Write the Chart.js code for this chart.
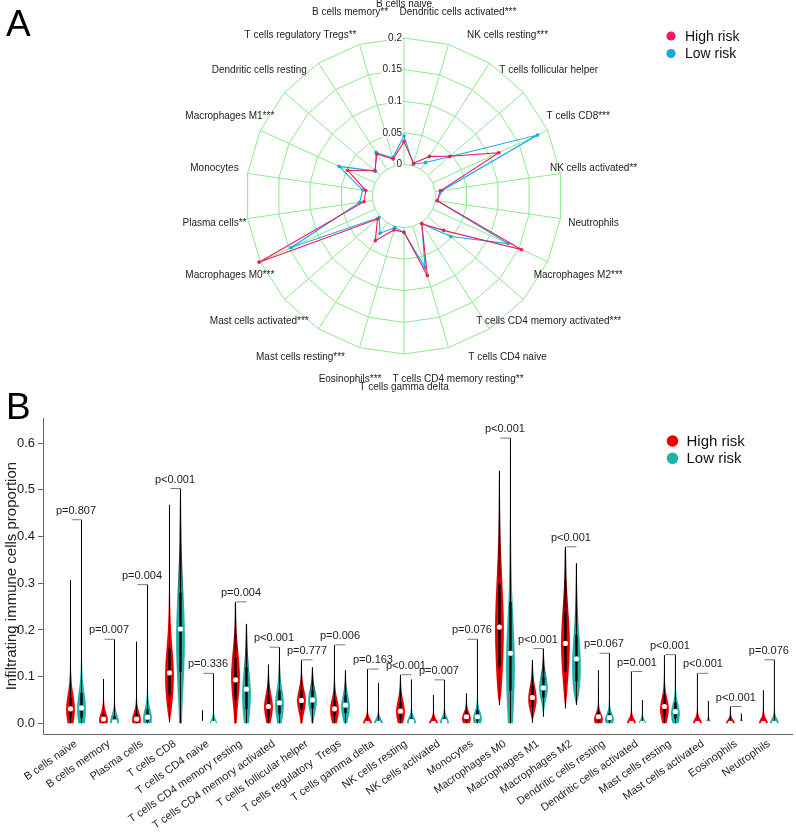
<!DOCTYPE html>
<html>
<head>
<meta charset="utf-8">
<script src="https://cdn.jsdelivr.net/npm/chart.js@4.4.1/dist/chart.umd.min.js"></script>
<style>
  body { margin: 0; background: #fff; width: 796px; height: 832px; position: relative; overflow: hidden;
         font-family: "Liberation Sans", Arial, sans-serif; }
  #wrapA { position: absolute; left: 0; top: 0; width: 796px; height: 400px; }
  #wrapB { position: absolute; left: 0; top: 380px; width: 796px; height: 452px; }
  .tag { position: absolute; font-size: 37px; line-height: 1; color: #000; }
</style>
</head>
<body>
<div id="wrapA"><canvas id="radar"></canvas></div>
<div id="wrapB"><canvas id="violin"></canvas></div>
<div class="tag" style="left:6px;top:5px">A</div>
<div class="tag" style="left:6px;top:388px">B</div>

<script>
const FONT = '"Liberation Sans", Arial, sans-serif';
Chart.defaults.font.family = FONT;

// ---- panel A: radar of mean proportions ----
const radarLabels = ['B cells naive', 'Dendritic cells activated***', 'NK cells resting***', 'T cells follicular helper',
  'T cells CD8***', 'NK cells activated**', 'Neutrophils', 'Macrophages M2***', 'T cells CD4 memory activated***',
  'T cells CD4 naive', 'T cells CD4 memory resting**', 'T cells gamma delta', 'Eosinophils***', 'Mast cells resting***',
  'Mast cells activated***', 'Macrophages M0***', 'Plasma cells**', 'Monocytes', 'Macrophages M1***',
  'Dendritic cells resting', 'T cells regulatory Tregs**', 'B cells memory**'];
const radarHigh = [0.036, 0.004, 0.0245, 0.046, 0.115, 0.008, 0.003, 0.154, 0.033, 0.002, 0.081, 0.0075,
  0.006, 0.034, 0.0055, 0.202, 0.014, 0.011, 0.048, 0.011, 0.029, 0.011];
const radarLow = [0.045, 0.002, 0.013, 0.045, 0.182, 0.011, 0.003, 0.131, 0.048, 0.002, 0.068, 0.0075,
  0.002, 0.02, 0.002, 0.146, 0.021, 0.016, 0.063, 0.01, 0.032, 0.013];
const radarTicks = [0, 0.05, 0.1, 0.15, 0.2];

// ---- panel B: violins ----
const cellTypes = ['B cells naive', 'B cells memory', 'Plasma cells', 'T cells CD8', 'T cells CD4 naive',
  'T cells CD4 memory resting', 'T cells CD4 memory activated', 'T cells follicular helper', 'T cells regulatory  Tregs',
  'T cells gamma delta', 'NK cells resting', 'NK cells activated', 'Monocytes', 'Macrophages M0', 'Macrophages M1',
  'Macrophages M2', 'Dendritic cells resting', 'Dendritic cells activated', 'Mast cells resting',
  'Mast cells activated', 'Eosinophils', 'Neutrophils'];
const pLabels = ['p=0.807', 'p=0.007', 'p=0.004', 'p<0.001', 'p=0.336', 'p=0.004', 'p<0.001', 'p=0.777', 'p=0.006',
  'p=0.163', 'p<0.001', 'p=0.007', 'p=0.076', 'p<0.001', 'p<0.001', 'p<0.001', 'p=0.067', 'p=0.001', 'p<0.001',
  'p<0.001', 'p<0.001', 'p=0.076'];
const yTicks = [0, 0.1, 0.2, 0.3, 0.4, 0.5, 0.6];

const highMin    = [0, 0, 0, 0.002, 0, 0, 0, 0, 0, 0, 0, 0, 0, 0.039, 0.001, 0.032, 0, 0, 0, 0, 0, 0];
const highQ1     = [0.012, 0.002, 0.002, 0.06, 0, 0.05, 0.015, 0.03, 0.015, 0, 0.008, 0, 0.005, 0.12, 0.035, 0.11, 0.004, 0, 0.015, 0, 0, 0];
const highMed    = [0.031, 0.009, 0.009, 0.108, 0, 0.093, 0.036, 0.049, 0.031, 0, 0.026, 0, 0.014, 0.206, 0.055, 0.171, 0.014, 0, 0.036, 0, 0, 0];
const highQ3     = [0.055, 0.02, 0.022, 0.16, 0, 0.14, 0.06, 0.07, 0.05, 0.004, 0.045, 0.004, 0.025, 0.3, 0.08, 0.24, 0.025, 0.004, 0.06, 0.003, 0.002, 0.003];
const highMax    = [0.307, 0.095, 0.175, 0.468, 0.028, 0.26, 0.126, 0.136, 0.168, 0.116, 0.104, 0.061, 0.064, 0.541, 0.136, 0.378, 0.114, 0.111, 0.146, 0.107, 0.036, 0.071];
const highMode   = [0.03, 0.006, 0.007, 0.1, 0, 0.1, 0.035, 0.048, 0.028, 0, 0.025, 0, 0.01, 0.2, 0.05, 0.17, 0.008, 0, 0.03, 0, 0, 0];
const highSpread = [0.03, 0.015, 0.015, 0.06, 0.004, 0.05, 0.025, 0.022, 0.022, 0.009, 0.022, 0.008, 0.012, 0.1, 0.025, 0.07, 0.012, 0.009, 0.022, 0.009, 0.007, 0.009];
const highWidth  = [1, 1, 1, 1, 0.3, 1, 1, 1, 1, 1, 1, 1, 1, 1, 1, 1, 1, 1, 1, 1, 1, 1];

const lowMin    = [0, 0, 0, 0, 0, 0, 0, 0, 0, 0, 0, 0, 0, 0, 0.014, 0.039, 0, 0, 0, 0, 0, 0];
const lowQ1     = [0.012, 0, 0.003, 0.11, 0, 0.03, 0.02, 0.032, 0.022, 0, 0, 0, 0.005, 0.07, 0.055, 0.09, 0.004, 0, 0.01, 0, 0, 0];
const lowMed    = [0.033, 0.003, 0.013, 0.202, 0, 0.073, 0.044, 0.05, 0.039, 0, 0.004, 0.004, 0.014, 0.15, 0.076, 0.138, 0.012, 0, 0.025, 0, 0, 0];
const lowQ3     = [0.065, 0.015, 0.03, 0.28, 0, 0.12, 0.07, 0.07, 0.06, 0.003, 0.012, 0.012, 0.028, 0.26, 0.098, 0.19, 0.022, 0.002, 0.045, 0, 0, 0.002];
const lowMax    = [0.436, 0.18, 0.297, 0.503, 0.107, 0.213, 0.163, 0.12, 0.114, 0.087, 0.094, 0.093, 0.18, 0.611, 0.16, 0.343, 0.15, 0.05, 0.147, 0.048, 0.021, 0.136];
const lowMode   = [0.03, 0.002, 0.01, 0.18, 0, 0.06, 0.04, 0.048, 0.035, 0, 0.002, 0.002, 0.01, 0.12, 0.075, 0.12, 0.008, 0, 0.02, 0, 0, 0];
const lowSpread = [0.035, 0.015, 0.02, 0.1, 0.008, 0.05, 0.03, 0.022, 0.022, 0.009, 0.01, 0.01, 0.014, 0.1, 0.025, 0.065, 0.012, 0.007, 0.02, 0.006, 0.005, 0.009];
const lowWidth  = [1, 1, 1, 1, 0.8, 1, 1, 1, 1, 1, 1, 1, 1, 1, 1, 1, 1, 0.8, 1, 0.6, 0.5, 1];

const PINK = '#f01b5b', SKY = '#17a9e6', GRID_GREEN = '#8ee88e';
const RED = '#ee0000', TEAL = '#20b2aa';
const HALF = 0.4; // violin half width in x-units

function legendPlugin(x, y, gap, r, size) {
  return {
    id: 'riskLegend',
    afterDraw(chart) {
      const ctx = chart.ctx;
      ctx.save();
      chart.data.datasets.forEach((ds, k) => {
        ctx.fillStyle = ds.legendColor;
        ctx.beginPath();
        ctx.arc(x, y + k * gap, r, 0, Math.PI * 2);
        ctx.fill();
        ctx.fillStyle = '#111';
        ctx.font = size + 'px ' + FONT;
        ctx.textAlign = 'left';
        ctx.textBaseline = 'middle';
        ctx.fillText(ds.label, x + 14, y + k * gap + 1);
      });
      ctx.restore();
    }
  };
}

// spokes from the inner ring, tick labels and outer labels
const radarDecor = {
  id: 'radarDecor',
  beforeDatasetsDraw(chart) {
    const s = chart.scales.r, ctx = chart.ctx;
    ctx.save();
    ctx.strokeStyle = GRID_GREEN;
    ctx.lineWidth = 1;
    radarLabels.forEach((_, i) => {
      const a = s.getPointPositionForValue(i, radarTicks[0]);
      const b = s.getPointPositionForValue(i, radarTicks[radarTicks.length - 1]);
      ctx.beginPath();
      ctx.moveTo(a.x, a.y);
      ctx.lineTo(b.x, b.y);
      ctx.stroke();
    });
    ctx.font = '10px ' + FONT;
    ctx.textAlign = 'right';
    ctx.textBaseline = 'middle';
    radarTicks.forEach(v => {
      const p = s.getPointPositionForValue(0, v);
      const txt = String(v);
      const w = ctx.measureText(txt).width;
      ctx.fillStyle = '#fff';
      ctx.fillRect(p.x - 2 - w - 1, p.y - 5, w + 2, 10);
      ctx.fillStyle = '#222';
      ctx.fillText(txt, p.x - 2, p.y);
    });
    ctx.restore();
  },
  afterDraw(chart) {
    const s = chart.scales.r, ctx = chart.ctx;
    ctx.save();
    ctx.font = '10px ' + FONT;
    ctx.fillStyle = '#222';
    ctx.textAlign = 'center';
    ctx.textBaseline = 'middle';
    radarLabels.forEach((lab, i) => {
      const p = s.getPointPosition(i, s.drawingArea * 1.212);
      ctx.fillText(lab, p.x, p.y);
    });
    ctx.restore();
  }
};

new Chart(document.getElementById('radar'), {
  type: 'radar',
  data: {
    labels: radarLabels,
    datasets: [
      { label: 'High risk', data: radarHigh, borderColor: PINK, backgroundColor: PINK, pointBackgroundColor: PINK,
        pointBorderWidth: 0, pointRadius: 1.8, borderWidth: 1.1, fill: false, legendColor: PINK },
      { label: 'Low risk', data: radarLow, borderColor: SKY, backgroundColor: SKY, pointBackgroundColor: SKY,
        pointBorderWidth: 0, pointRadius: 1.8, borderWidth: 1.1, fill: false, legendColor: SKY }
    ]
  },
  options: {
    responsive: true,
    maintainAspectRatio: false,
    animation: false,
    layout: { padding: { left: 30, right: 18, top: 38, bottom: 46 } },
    plugins: { legend: { display: false }, tooltip: { enabled: false } },
    scales: {
      r: {
        min: -0.05,
        max: 0.2,
        ticks: { display: false, stepSize: 0.05 },
        grid: { color: GRID_GREEN, lineWidth: 1 },
        angleLines: { display: false },
        pointLabels: { display: false }
      }
    }
  },
  plugins: [radarDecor, legendPlugin(671, 36, 17.5, 4.6, 14)]
});

function violinStats(side, i) {
  if (side === 'high') {
    return { min: highMin[i], q1: highQ1[i], med: highMed[i], q3: highQ3[i], max: highMax[i],
             mode: highMode[i], sd: highSpread[i], w: highWidth[i] };
  }
  return { min: lowMin[i], q1: lowQ1[i], med: lowMed[i], q3: lowQ3[i], max: lowMax[i],
           mode: lowMode[i], sd: lowSpread[i], w: lowWidth[i] };
}

function drawViolin(ctx, xs, ys, pos, st, color) {
  const xc = xs.getPixelForValue(pos);
  const hw = (xs.getPixelForValue(pos + HALF) - xc) * st.w;
  const yb = ys.getPixelForValue(st.min), yt = ys.getPixelForValue(st.max);
  const steps = 90;
  const pts = [];
  for (let k = 0; k <= steps; k++) {
    const v = st.min + (st.max - st.min) * k / steps;
    const d = v - st.mode;
    let w = 0.8 * Math.exp(-0.5 * (d / st.sd) ** 2) + 0.2 * Math.exp(-0.5 * (d / (3 * st.sd)) ** 2);
    if (st.min > 0) w *= 1 - Math.exp(-(v - st.min) / 0.015);
    if (k === steps) w = 0;
    pts.push([w * hw, ys.getPixelForValue(v)]);
  }
  const grad = ctx.createLinearGradient(0, yb, 0, yt);
  grad.addColorStop(0, color);
  grad.addColorStop(0.5, color);
  grad.addColorStop(0.85, '#200');
  grad.addColorStop(1, '#000');
  ctx.beginPath();
  pts.forEach(([w, y], k) => k ? ctx.lineTo(xc + w, y) : ctx.moveTo(xc + w, y));
  for (let k = pts.length - 1; k >= 0; k--) ctx.lineTo(xc - pts[k][0], pts[k][1]);
  ctx.closePath();
  ctx.fillStyle = grad;
  ctx.fill();
  // whisker
  ctx.strokeStyle = '#000';
  ctx.lineWidth = 1;
  ctx.beginPath();
  ctx.moveTo(xc, yb);
  ctx.lineTo(xc, yt);
  ctx.stroke();
  // box
  if (st.q3 > st.q1) {
    ctx.lineWidth = 2.4;
    ctx.beginPath();
    ctx.moveTo(xc, ys.getPixelForValue(st.q1));
    ctx.lineTo(xc, ys.getPixelForValue(st.q3));
    ctx.stroke();
  }
}

const violinPlugin = {
  id: 'violins',
  beforeDatasetsDraw(chart) {
    const { ctx, scales: { x, y } } = chart;
    ctx.save();
    cellTypes.forEach((c, i) => {
      drawViolin(ctx, x, y, 3 * i + 1, violinStats('high', i), RED);
      drawViolin(ctx, x, y, 3 * i + 2, violinStats('low', i), TEAL);
    });
    ctx.restore();
  },
  afterDatasetsDraw(chart) {
    const { ctx, scales: { x, y } } = chart;
    ctx.save();
    ctx.font = '11px ' + FONT;
    ctx.textAlign = 'center';
    ctx.textBaseline = 'middle';
    cellTypes.forEach((c, i) => {
      const top = y.getPixelForValue(Math.max(highMax[i], lowMax[i]));
      const x1 = x.getPixelForValue(3 * i + 1), x2 = x.getPixelForValue(3 * i + 2);
      ctx.strokeStyle = '#555';
      ctx.lineWidth = 0.8;
      ctx.beginPath();
      ctx.moveTo(x1 + 1, top);
      ctx.lineTo(x2, top);
      ctx.stroke();
      ctx.fillStyle = '#222';
      ctx.fillText(pLabels[i], x.getPixelForValue(3 * i + 1.5), top - 9);
    });
    ctx.restore();
  }
};

new Chart(document.getElementById('violin'), {
  type: 'scatter',
  data: {
    datasets: [
      { label: 'High risk', data: highMed.map((m, i) => ({ x: 3 * i + 1, y: m })), legendColor: RED,
        pointRadius: 2.6, pointBackgroundColor: '#fff', pointBorderWidth: 0 },
      { label: 'Low risk', data: lowMed.map((m, i) => ({ x: 3 * i + 2, y: m })), legendColor: TEAL,
        pointRadius: 2.6, pointBackgroundColor: '#fff', pointBorderWidth: 0 }
    ]
  },
  options: {
    responsive: true,
    maintainAspectRatio: false,
    animation: false,
    layout: { padding: { left: 0, right: 0, top: 38, bottom: 0 } },
    plugins: { legend: { display: false }, tooltip: { enabled: false } },
    scales: {
      x: {
        type: 'linear',
        min: -1.5,
        max: 66.6,
        afterBuildTicks: s => { s.ticks = cellTypes.map((c, i) => ({ value: 3 * i + 1.5 })); },
        afterFit: s => { s.height = 97.7; },
        ticks: { callback: (v, i) => cellTypes[i], autoSkip: false, minRotation: 35, maxRotation: 35,
                 font: { size: 11 }, color: '#222', padding: 3 },
        grid: { display: false, drawTicks: false },
        border: { display: true, color: '#666', width: 1 }
      },
      y: {
        min: -0.0236,
        max: 0.654,
        afterBuildTicks: s => { s.ticks = yTicks.map(v => ({ value: v })); },
        afterFit: s => { s.width = 43; },
        ticks: { callback: v => v.toFixed(1), font: { size: 13 }, color: '#222', padding: 3 },
        grid: { drawOnChartArea: false, drawTicks: true, tickLength: 5, color: '#666' },
        border: { display: true, color: '#666', width: 1 },
        title: { display: true, text: 'Infiltrating immune cells proportion', font: { size: 15 }, color: '#222',
                 padding: { top: 3, bottom: 0 } }
      }
    }
  },
  plugins: [violinPlugin, legendPlugin(672.5, 61, 17.3, 5.8, 15)]
});
</script>
</body>
</html>
